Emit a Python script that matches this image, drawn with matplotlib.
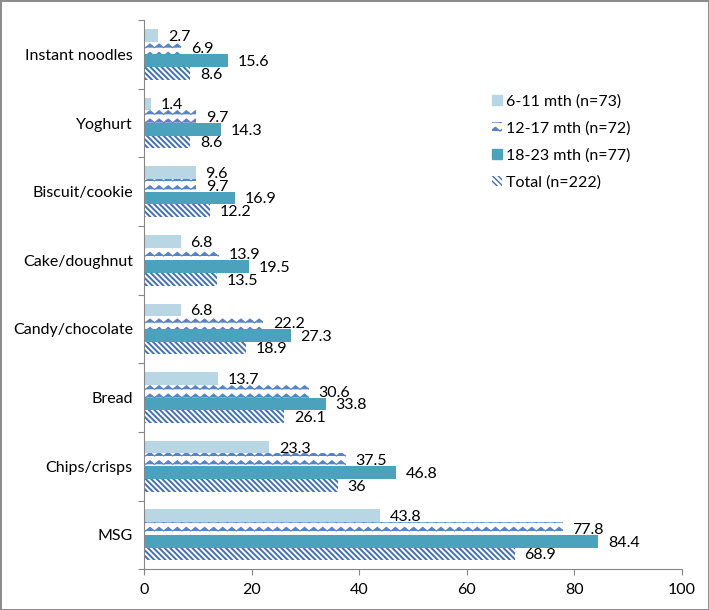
import warnings
import numpy as np
import matplotlib
matplotlib.use("Agg")
import matplotlib.pyplot as plt
from matplotlib import hatch as mhatch
from matplotlib.path import Path
from matplotlib.patches import Patch

warnings.filterwarnings("ignore")

# data (percent), categories listed top to bottom
categories = ["Instant noodles", "Yoghurt", "Biscuit/cookie", "Cake/doughnut",
              "Candy/chocolate", "Bread", "Chips/crisps", "MSG"]
m6_11 = [2.7, 1.4, 9.6, 6.8, 6.8, 13.7, 23.3, 43.8]
m12_17 = [6.9, 9.7, 9.7, 13.9, 22.2, 30.6, 37.5, 77.8]
m18_23 = [15.6, 14.3, 16.9, 19.5, 27.3, 33.8, 46.8, 84.4]
total = [8.6, 8.6, 12.2, 13.5, 18.9, 26.1, 36, 68.9]
series_names = ["6-11 mth (n=73)", "12-17 mth (n=72)", "18-23 mth (n=77)", "Total (n=222)"]
x_ticks = [0, 20, 40, 60, 80, 100]


# wave hatch like the Excel "wave" pattern, used with '~'
class WaveHatch(mhatch.HatchPatternBase):
    def __init__(self, hatch, density):
        self.rows = int(hatch.count('~') * 6)
        self.periods = 11
        self.num_vertices = self.rows * (2 * self.periods + 1)

    def set_vertices_and_codes(self, vertices, codes):
        n = 2 * self.periods + 1
        amp = 0.22 / max(self.rows, 1)
        xs = np.linspace(0, 1, n)
        for r in range(self.rows):
            y0 = (r + 0.5) / self.rows
            ys = y0 + amp * np.where(np.arange(n) % 2 == 0, -1, 1)
            vertices[r * n:(r + 1) * n, 0] = xs
            vertices[r * n:(r + 1) * n, 1] = ys
            codes[r * n] = Path.MOVETO
            codes[r * n + 1:(r + 1) * n] = Path.LINETO


mhatch._hatch_types.append(WaveHatch)

plt.rcParams['font.family'] = ['Lato', 'DejaVu Sans']
plt.rcParams['hatch.linewidth'] = 1.0

styles = [
    dict(color="#b8d6e3"),
    dict(facecolor="white", edgecolor="#5584c6", hatch="~~", linewidth=0),
    dict(color="#4aa2bd"),
    dict(facecolor="white", edgecolor="#3f6fb8", hatch="\\\\\\\\\\\\", linewidth=0),
]
hatch_lw = [None, 0.8, None, 1.4]

fig = plt.figure(figsize=(7.09, 6.10), dpi=100)
fig.patch.set_edgecolor("#8c8c8c")
fig.patch.set_linewidth(2)
ax = fig.add_axes([0.203, 0.067, 0.759, 0.9])

y = np.arange(len(categories))
h = 0.185
all_series = [m6_11, m12_17, m18_23, total]
for j, vals in enumerate(all_series):
    pos = y + (j - 1.5) * h
    bars = ax.barh(pos, vals, height=h, label=series_names[j], **styles[j])
    if hatch_lw[j]:
        for b in bars:
            try:
                b.set_hatch_linewidth(hatch_lw[j])
            except AttributeError:
                pass
    for p, v in zip(pos, vals):
        ax.annotate(f"{v:g}", (v, p), xytext=(7, -1), textcoords="offset points",
                    va="center", ha="left", fontsize=11.5)

ax.set_ylim(len(categories) - 0.5, -0.5)
ax.set_xlim(0, 100)
ax.set_xticks(x_ticks)
ax.set_yticks(np.arange(len(categories) + 1) - 0.5)
ax.set_yticklabels([])
ax.set_yticks(y, minor=True)
ax.set_yticklabels(categories, minor=True, fontsize=11.5)
ax.tick_params(axis="y", which="minor", length=0, pad=8)
ax.tick_params(axis="both", which="major", length=4, color="#868686", labelsize=11.5)
ax.tick_params(axis="x", pad=6)

for s in ["top", "right"]:
    ax.spines[s].set_visible(False)
for s in ["left", "bottom"]:
    ax.spines[s].set_color("#868686")

handles = [Patch(label=series_names[j], **styles[j]) for j in range(4)]
ax.legend(handles=handles, loc="center left", bbox_to_anchor=(0.62, 0.778),
          frameon=False, fontsize=11.5, handlelength=0.6, handleheight=0.6,
          handletextpad=0.3, labelspacing=0.8)

plt.savefig("out.png")
